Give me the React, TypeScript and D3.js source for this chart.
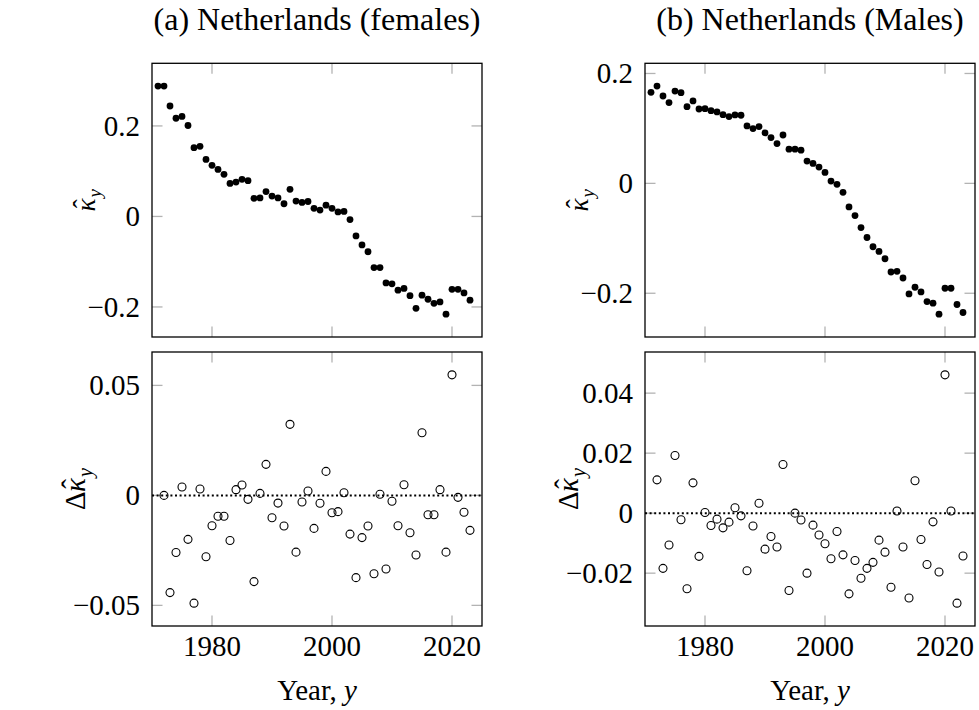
import React from "react";
import * as d3 from "d3";

// ---------- data ----------
const kappaYears = [
  1971, 1972, 1973, 1974, 1975, 1976, 1977, 1978, 1979, 1980,
  1981, 1982, 1983, 1984, 1985, 1986, 1987, 1988, 1989, 1990,
  1991, 1992, 1993, 1994, 1995, 1996, 1997, 1998, 1999, 2000,
  2001, 2002, 2003, 2004, 2005, 2006, 2007, 2008, 2009, 2010,
  2011, 2012, 2013, 2014, 2015, 2016, 2017, 2018, 2019, 2020,
  2021, 2022, 2023,
];
const deltaYears = kappaYears.slice(1);

const femKappa = [
  0.288, 0.288, 0.244, 0.217, 0.221, 0.201, 0.152, 0.155, 0.126, 0.113,
  0.104, 0.093, 0.073, 0.076, 0.082, 0.079, 0.040, 0.041, 0.055, 0.045,
  0.041, 0.028, 0.060, 0.034, 0.031, 0.033, 0.018, 0.014, 0.025, 0.018,
  0.010, 0.011, -0.007, -0.043, -0.063, -0.078, -0.113, -0.113, -0.147, -0.149,
  -0.163, -0.159, -0.175, -0.203, -0.174, -0.183, -0.192, -0.189, -0.216, -0.161,
  -0.161, -0.169, -0.185,
];
const femDelta = [
  0, -0.0442, -0.026, 0.0038, -0.020, -0.049, 0.0029, -0.0279, -0.0138, -0.0095,
  -0.0095, -0.0205, 0.0026, 0.0047, -0.0018, -0.0392, 0.0009, 0.0141, -0.0102, -0.0035,
  -0.0139, 0.0323, -0.0258, -0.003, 0.002, -0.015, -0.0036, 0.0109, -0.0079, -0.0074,
  0.0012, -0.0176, -0.0374, -0.0192, -0.0139, -0.0356, 0.0005, -0.0335, -0.0027, -0.0138,
  0.0048, -0.017, -0.0271, 0.0285, -0.0088, -0.0088, 0.0026, -0.0258, 0.0548, -0.0009,
  -0.0077, -0.0159,
];
const maleKappa = [
  0.1656, 0.177, 0.159, 0.147, 0.168, 0.165, 0.1396, 0.150, 0.1353, 0.136,
  0.1323, 0.130, 0.125, 0.1215, 0.1245, 0.124, 0.1045, 0.0997, 0.1033, 0.0918,
  0.0834, 0.0725, 0.088, 0.0622, 0.0622, 0.0604, 0.0405, 0.0363, 0.0296, 0.0199,
  0.0042, -0.0018, -0.0163, -0.0429, -0.0586, -0.0804, -0.0985, -0.1154, -0.1239, -0.1372,
  -0.1613, -0.1601, -0.1722, -0.2012, -0.1891, -0.1976, -0.2151, -0.2181, -0.2381, -0.1909,
  -0.1909, -0.2205, -0.235,
];
const maleDelta = [
  0.0111, -0.0184, -0.0106, 0.0192, -0.0022, -0.0252, 0.0101, -0.0144, 0.0002, -0.0041,
  -0.002, -0.0049, -0.003, 0.0018, -0.0009, -0.0192, -0.0043, 0.0033, -0.012, -0.0078,
  -0.0113, 0.0162, -0.0258, 0.0, -0.0023, -0.02, -0.004, -0.0073, -0.0102, -0.0152,
  -0.0061, -0.0139, -0.0269, -0.0158, -0.0217, -0.0184, -0.0164, -0.009, -0.013, -0.0247,
  0.0007, -0.0113, -0.0283, 0.0108, -0.0088, -0.0171, -0.0029, -0.0196, 0.0461, 0.0007,
  -0.03, -0.0143,
];

const panelTitles = ["(a) Netherlands (females)", "(b) Netherlands (Males)"];
const xTicks = [1980, 2000, 2020];
const xDomain = [1970, 2025];
const femKappaTicks = [-0.2, 0, 0.2];
const femDeltaTicks = [-0.05, 0, 0.05];
const maleKappaTicks = [-0.2, 0, 0.2];
const maleDeltaTicks = [-0.02, 0, 0.02, 0.04];

// ---------- layout ----------
const W = 979;
const H = 710;
const colX = [152, 645];
const panelW = 330;
const topY = 63.3;
const topH = 273.7;
const botY = 352;
const botH = 274;
const FONT = "'Liberation Serif', 'Times New Roman', serif";
const TICK_FS = 29;
const TICK_LEN = 10.5;

function enlarged(vals: number[]): [number, number] {
  const [lo, hi] = d3.extent(vals) as [number, number];
  const pad = (hi - lo) * 0.1;
  return [lo - pad, hi + pad];
}

function fmt(v: number) {
  if (v === 0) return "0";
  const s = d3.format("~g")(Math.abs(v));
  return (v < 0 ? "\u2212" : "") + s;
}

type PanelProps = {
  x0: number;
  y0: number;
  h: number;
  years: number[];
  values: number[];
  yTicks: number[];
  filled: boolean;
  showXLabels: boolean;
  zeroLine: boolean;
};

function Panel({ x0, y0, h, years, values, yTicks, filled, showXLabels, zeroLine }: PanelProps) {
  const xs = d3.scaleLinear().domain(xDomain).range([x0, x0 + panelW]);
  const ys = d3.scaleLinear().domain(enlarged(values)).range([y0 + h, y0]);
  const tickColor = "#b3b3b3";
  return (
    <g>
      {xTicks.map((t) => (
        <g key={"xt" + t}>
          <line x1={xs(t)} x2={xs(t)} y1={y0 + h} y2={y0 + h - TICK_LEN} stroke={tickColor} strokeWidth={1.3} />
          <line x1={xs(t)} x2={xs(t)} y1={y0} y2={y0 + TICK_LEN} stroke={tickColor} strokeWidth={1.3} />
          {showXLabels && (
            <text x={xs(t)} y={y0 + h + 30} textAnchor="middle" fontSize={TICK_FS} fontFamily={FONT}>
              {t}
            </text>
          )}
        </g>
      ))}
      {yTicks.map((t) => (
        <g key={"yt" + t}>
          <line x1={x0} x2={x0 + TICK_LEN} y1={ys(t)} y2={ys(t)} stroke={tickColor} strokeWidth={1.3} />
          <line x1={x0 + panelW} x2={x0 + panelW - TICK_LEN} y1={ys(t)} y2={ys(t)} stroke={tickColor} strokeWidth={1.3} />
          <text x={x0 - 12} y={ys(t)} dy="0.34em" textAnchor="end" fontSize={TICK_FS} fontFamily={FONT}>
            {fmt(t)}
          </text>
        </g>
      ))}
      {zeroLine && (
        <line
          x1={x0}
          x2={x0 + panelW}
          y1={ys(0)}
          y2={ys(0)}
          stroke="#000"
          strokeWidth={2}
          strokeDasharray="2 2.6"
        />
      )}
      {years.map((yr, i) =>
        filled ? (
          <circle key={yr} cx={xs(yr)} cy={ys(values[i])} r={3.4} fill="#000" />
        ) : (
          <circle key={yr} cx={xs(yr)} cy={ys(values[i])} r={4} fill="none" stroke="#000" strokeWidth={1.1} />
        )
      )}
      <rect x={x0} y={y0} width={panelW} height={h} fill="none" stroke="#000" strokeWidth={1.3} />
    </g>
  );
}

function KappaLabel({ cx, cy, delta }: { cx: number; cy: number; delta: boolean }) {
  const fs = delta ? 29 : 27;
  const dW = delta ? 0.62 * fs : 0;
  const kW = 0.52 * fs;
  const subFs = fs * 0.7;
  const yW = 0.45 * subFs;
  const total = dW + kW + yW;
  const sx = -total / 2;
  const base = 0.32 * fs;
  return (
    <g transform={`translate(${cx},${cy}) rotate(-90)`} fontFamily={FONT}>
      {delta && (
        <text x={sx} y={base} fontSize={fs}>
          Δ
        </text>
      )}
      <text x={sx + dW} y={base} fontSize={fs} fontStyle="italic">
        κ
      </text>
      <text x={sx + dW + kW * 0.55} y={base - 0.1 * fs} fontSize={fs} textAnchor="middle">
        {"\u02C6"}
      </text>
      <text x={sx + dW + kW} y={base + 0.22 * fs} fontSize={subFs} fontStyle="italic">
        y
      </text>
    </g>
  );
}

export default function App() {
  const cols = [
    { kappa: femKappa, delta: femDelta, kt: femKappaTicks, dt: femDeltaTicks },
    { kappa: maleKappa, delta: maleDelta, kt: maleKappaTicks, dt: maleDeltaTicks },
  ];
  return (
    <svg width={W} height={H} style={{ position: "absolute", left: 0, top: 0, background: "#fff" }}>
      <rect x={0} y={0} width={W} height={H} fill="#fff" />
      {cols.map((c, ci) => {
        const x0 = colX[ci];
        const cx = x0 + panelW / 2;
        return (
          <g key={ci}>
            <text x={cx} y={30} textAnchor="middle" fontSize={32} fontFamily={FONT}>
              {panelTitles[ci]}
            </text>
            <Panel x0={x0} y0={topY} h={topH} years={kappaYears} values={c.kappa} yTicks={c.kt} filled showXLabels={false} zeroLine={false} />
            <Panel x0={x0} y0={botY} h={botH} years={deltaYears} values={c.delta} yTicks={c.dt} filled={false} showXLabels zeroLine />
            <KappaLabel cx={x0 - 66} cy={topY + topH / 2} delta={false} />
            <KappaLabel cx={x0 - 76} cy={botY + botH / 2} delta />
            <text x={cx} y={700} textAnchor="middle" fontSize={29} fontFamily={FONT}>
              Year, <tspan fontStyle="italic">y</tspan>
            </text>
          </g>
        );
      })}
    </svg>
  );
}
